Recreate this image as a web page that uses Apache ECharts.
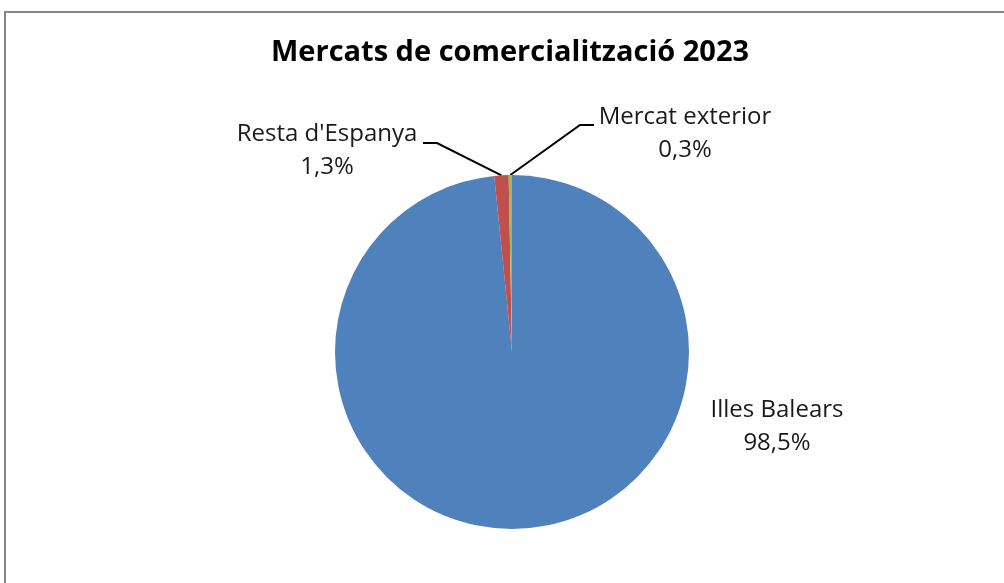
<!DOCTYPE html>
<html>
<head>
<meta charset="utf-8">
<script src="https://cdn.jsdelivr.net/npm/echarts@6/dist/echarts.min.js"></script>
<style>
html,body{margin:0;padding:0;background:#fff;}
#chart{width:1004px;height:583px;}
</style>
</head>
<body>
<div id="chart"></div>
<script>
const titleText = "Mercats de comercialització 2023";
const categories = ["Illes Balears", "Resta d'Espanya", "Mercat exterior"];
const values = [98.5, 1.3, 0.3];
const valueLabels = ["98,5%", "1,3%", "0,3%"];
const colors = ["#4F81BD", "#C0504D", "#9BBB59"];

// label placement (layout only)
const labelPos = [
  {x: 777, y: 394, line: null},
  {x: 327, y: 118, line: {endX: 423, endY: 143, dir: 1}},
  {x: 685, y: 101, line: {endX: 594, endY: 125, dir: -1}}
];

const chart = echarts.init(document.getElementById('chart'), null, {renderer: 'canvas'});
const data = categories.map((c, i) => ({
  name: c,
  value: values[i],
  itemStyle: {color: colors[i]},
  labelLine: {show: i !== 0}
}));

chart.setOption({
  animation: false,
  backgroundColor: '#ffffff',
  title: {
    text: titleText,
    left: 266,
    top: 33,
    textStyle: {fontFamily: 'Open Sans', fontWeight: 'bold', fontSize: 29, color: '#000'}
  },
  graphic: [{
    type: 'rect',
    shape: {x: 5, y: 12, width: 1100, height: 700},
    style: {fill: 'none', stroke: '#868686', lineWidth: 2},
    silent: true
  }],
  series: [{
    type: 'pie',
    center: [512, 352],
    radius: 177,
    startAngle: 90,
    clockwise: true,
    silent: true,
    emphasis: {disabled: true},
    data: data,
    label: {
      show: true,
      position: 'outside',
      formatter: p => p.name + '\n' + valueLabels[p.dataIndex],
      fontFamily: 'Open Sans',
      fontSize: 24,
      lineHeight: 33,
      color: '#1a1a1a',
      align: 'center'
    },
    labelLine: {
      show: true,
      lineStyle: {color: '#000', width: 2},
      length: 20,
      length2: 14
    },
    labelLayout: function (params) {
      const cfg = labelPos[params.dataIndex];
      const res = {x: cfg.x, y: cfg.y, align: 'center', verticalAlign: 'top'};
      if (cfg.line && params.labelLinePoints) {
        const p0 = params.labelLinePoints[0];
        res.labelLinePoints = [
          [p0[0], p0[1]],
          [cfg.line.endX + cfg.line.dir * 14, cfg.line.endY],
          [cfg.line.endX, cfg.line.endY]
        ];
      }
      return res;
    }
  }]
});
</script>
</body>
</html>
